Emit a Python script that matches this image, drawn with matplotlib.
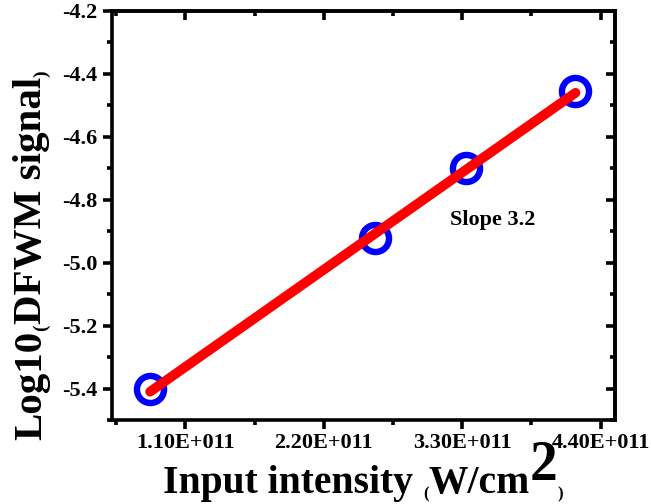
import matplotlib
matplotlib.use("Agg")
import matplotlib.pyplot as plt
from matplotlib.ticker import FixedLocator, MultipleLocator

# ---- data ----
intensity = [0.82e11, 2.61e11, 3.33e11, 4.20e11]
log_signal = [-5.40, -4.92, -4.70, -4.455]
fit_x = [0.82e11, 4.20e11]
fit_y = [-5.41, -4.46]
x_ticks = [1.1e11, 2.2e11, 3.3e11, 4.4e11]
x_tick_labels = ["1.10E+011", "2.20E+011", "3.30E+011", "4.40E+011"]
y_ticks = [-5.4, -5.2, -5.0, -4.8, -4.6, -4.4, -4.2]
y_tick_labels = ["-5.4", "-5.2", "-5.0", "-4.8", "-4.6", "-4.4", "-4.2"]
annotation = "Slope 3.2"

FONT = "Liberation Serif"
plt.rcParams["font.family"] = [FONT, "DejaVu Serif"]
plt.rcParams["font.weight"] = "bold"

fig = plt.figure(figsize=(6.51, 5.04), dpi=100)
ax = fig.add_axes([112/651, 1-420/504, (615-112)/651, (420-11)/504])

ax.plot(intensity, log_signal, linestyle="none", marker="o", markersize=19.5,
        markerfacecolor="none", markeredgecolor="#0000ff", markeredgewidth=4.6, zorder=2)
ax.plot(fit_x, fit_y, color="#ff0000", linewidth=7, solid_capstyle="round", zorder=3)

ax.set_xlim(0.517e11, 4.514e11)
ax.set_ylim(-5.5, -4.2)

ax.xaxis.set_major_locator(FixedLocator(x_ticks))
ax.set_xticklabels(x_tick_labels)
ax.xaxis.set_minor_locator(MultipleLocator(0.55e11))
ax.yaxis.set_major_locator(FixedLocator(y_ticks))
ax.set_yticklabels(y_tick_labels)
ax.yaxis.set_minor_locator(MultipleLocator(0.1))

for s in ax.spines.values():
    s.set_linewidth(2.6)
ax.tick_params(which="major", direction="out", length=6.5, width=2.6, labelsize=16, pad=3)
ax.tick_params(axis="y", which="major", pad=4)
ax.tick_params(which="minor", direction="out", length=3.8, width=2.6)
for lab in ax.get_xticklabels() + ax.get_yticklabels():
    lab.set_fontweight("bold")
    lab.set_fontfamily(FONT)

# mirrored ticks on top/right pointing inward
secx = ax.secondary_xaxis("top")
secx.xaxis.set_major_locator(FixedLocator(x_ticks))
secx.xaxis.set_minor_locator(MultipleLocator(0.55e11))
secx.tick_params(which="major", direction="in", length=6.5, width=2.6, labeltop=False)
secx.tick_params(which="minor", direction="in", length=3.8, width=2.6)
secx.spines["top"].set_linewidth(2.6)
secy = ax.secondary_yaxis("right")
secy.yaxis.set_major_locator(FixedLocator(y_ticks))
secy.yaxis.set_minor_locator(MultipleLocator(0.1))
secy.tick_params(which="major", direction="in", length=6.5, width=2.6, labelright=False)
secy.tick_params(which="minor", direction="in", length=3.8, width=2.6)
secy.spines["right"].set_linewidth(2.6)

ax.text(3.20e11, -4.88, annotation, fontsize=16, fontweight="bold", family=FONT)

BIG = 28.5
SMALL = 12
kw = dict(fontweight="bold", family=FONT)

# x label pieces
t1 = fig.text(163/651, 1-502/504, "Input intensity ", fontsize=BIG, ha="left", va="bottom", **kw)
t2 = ax.annotate("(", xy=(1, 0), xycoords=t1, ha="left", va="bottom", fontsize=SMALL,
                 annotation_clip=False, **kw)
t3 = ax.annotate("W/cm", xy=(1, 0), xycoords=(t2, t1), ha="left", va="bottom", fontsize=BIG,
                 annotation_clip=False, **kw)
t4 = ax.annotate("2", xy=(1, 0), xycoords=t3, xytext=(0, 7), textcoords="offset points",
                 ha="left", va="bottom", fontsize=40, annotation_clip=False, **kw)
t5 = ax.annotate(")", xy=(1, 0), xycoords=(t4, t3), ha="left", va="bottom", fontsize=SMALL,
                 annotation_clip=False, **kw)

# y label pieces (rotated)
r1 = fig.text(13/651, 1-440/504, "Log10", rotation=90, fontsize=BIG + 1, ha="left", va="bottom", **kw)
r2 = ax.annotate("(", xy=(1, 1), xycoords=r1, ha="right", va="bottom", rotation=90,
                 fontsize=SMALL + 2, annotation_clip=False, **kw)
r3 = ax.annotate("DFWM signal", xy=(0, 1), xycoords=(r1, r2), ha="left", va="bottom",
                 rotation=90, fontsize=BIG + 1, annotation_clip=False, **kw)
r4 = ax.annotate(")", xy=(1, 1), xycoords=r3, ha="right", va="bottom", rotation=90,
                 fontsize=SMALL + 2, annotation_clip=False, **kw)

fig.savefig("out.png", dpi=100)
